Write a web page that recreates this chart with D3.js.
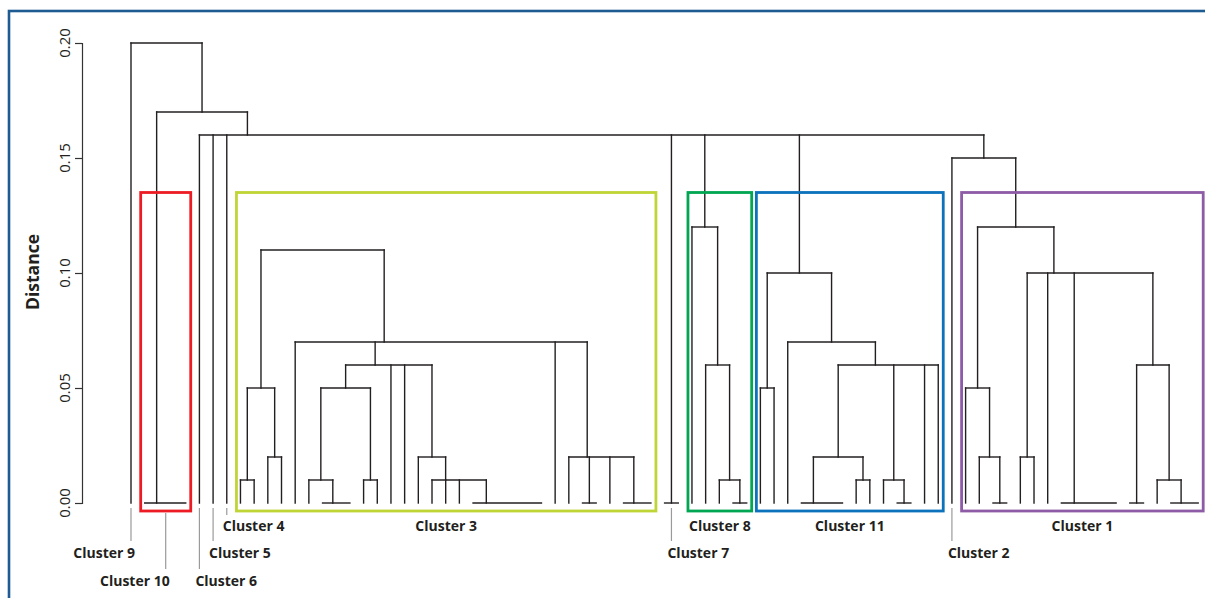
<!DOCTYPE html>
<html><head><meta charset="utf-8">
<script src="https://cdn.jsdelivr.net/npm/d3@7"></script>
<style>body{margin:0;background:#fff}svg{display:block}</style>
</head><body><svg id="chart" width="1205" height="598"></svg>
<script>
// ---------- DATA ----------
// Tree builder helpers: N(height, ...children), L() = leaf
const L = () => ({h: 0});
const N = (h, ...children) => ({h, children});

const cluster10Tree = N(0, L(), L(), L(), L());
const cluster3Tree = N(0.11,
  N(0.05, N(0.01, L(), L()), N(0.02, L(), L())),
  N(0.07,
    L(),
    N(0.06,
      N(0.05, N(0.01, L(), N(0, L(), L(), L())), N(0.01, L(), L())),
      L(), L(),
      N(0.02, L(), N(0.01, L(), L(), L(), N(0, L(), L(), L(), L(), L(), L())))
    ),
    L(),
    N(0.02, L(), N(0, L(), L()), L(), N(0, L(), L(), L()))
  )
);
cluster3Tree.hideStem = true;
const cluster7Tree = N(0, L(), L());
const cluster8Tree = N(0.12, L(), N(0.06, L(), N(0.01, L(), N(0, L(), L()))));
const cluster11Tree = N(0.10,
  N(0.05, L(), L()),
  N(0.07, L(),
    N(0.06,
      N(0.02, N(0, L(), L(), L(), L()), N(0.01, L(), L())),
      N(0.01, L(), N(0, L(), L())),
      L(), L()
    )
  )
);
const cluster1Tree = N(0.12,
  N(0.05, L(), N(0.02, L(), N(0, L(), L()))),
  N(0.10,
    N(0.02, L(), L()),
    L(),
    N(0, L(), L(), L(), L(), L()),
    N(0.06, N(0, L(), L()), N(0.01, L(), N(0, L(), L(), L())))
  )
);
const treeData = N(0.20,
  L(),                       // Cluster 9
  N(0.17,
    cluster10Tree,
    N(0.16,
      L(), L(), L(),          // Clusters 6, 5, 4
      cluster3Tree, cluster7Tree, cluster8Tree, cluster11Tree,
      N(0.15, L() /* Cluster 2 */, cluster1Tree)
    )
  )
);

const yTicks = [0, 0.05, 0.10, 0.15, 0.20];
const yLabel = "Distance";

const clusterNames = ["Cluster 1","Cluster 2","Cluster 3","Cluster 4","Cluster 5","Cluster 6",
                      "Cluster 7","Cluster 8","Cluster 9","Cluster 10","Cluster 11"];
const clusterFirstLeaf = [61, 60, 8, 7, 6, 5, 39, 41, 0, 1, 46];
const clusterLastLeaf  = [78, 60, 38, 7, 6, 5, 40, 45, 0, 4, 59];
const boxTop = 0.135;

// ---------- STYLE / LAYOUT ----------
const clusterBoxColor = ["#8e5ba6", null, "#bfd535", null, null, null, null, "#00a651", null, "#ed1c24", "#0b72bb"];
const clusterRow    = [0, 1, 0, 0, 1, 2, 1, 0, 1, 2, 0];
const clusterAnchor = ["middle","start","middle","start","start","start","start","middle","end","end","middle"];
const rowBaseline = [531, 558, 586];
const rowLineEnd  = [515, 541, 569];

const svg = d3.select("#chart");
const x = d3.scaleLinear().domain([0, 78]).range([131, 1198.2]);
const y = d3.scaleLinear().domain([0, 0.2]).range([503, 43]);

// frame
svg.append("rect").attr("x", 9).attr("y", 11).attr("width", 1230).attr("height", 620)
  .attr("fill", "none").attr("stroke", "#1d5b92").attr("stroke-width", 2.6);

// layout of dendrogram
const root = d3.hierarchy(treeData);
root.leaves().forEach((l, i) => { l.px = x(i); });
(function place(n) {
  if (!n.children) return n.px;
  const xs = n.children.map(place);
  let m = xs[xs.length - 1];
  for (let i = xs.length - 2; i >= 0; i--) m = (xs[i] + m) / 2;
  n.px = m;
  return m;
})(root);

const g = svg.append("g").attr("stroke", "#231f20").attr("stroke-width", 1.4)
  .attr("fill", "none").attr("stroke-linecap", "square");
const internal = root.descendants().filter(d => d.children);
g.selectAll("line.h").data(internal).join("line").attr("class", "h")
  .attr("x1", d => d.children[0].px).attr("x2", d => d.children[d.children.length - 1].px)
  .attr("y1", d => y(d.data.h)).attr("y2", d => y(d.data.h));
const stems = root.descendants().filter(d => d.parent && !d.data.hideStem && d.parent.data.h > d.data.h);
g.selectAll("line.v").data(stems).join("line").attr("class", "v")
  .attr("x1", d => d.px).attr("x2", d => d.px)
  .attr("y1", d => y(d.data.h)).attr("y2", d => y(d.parent.data.h));

// axis
const axis = svg.append("g").attr("transform", "translate(82,0)")
  .call(d3.axisLeft(y).tickValues(yTicks).tickSize(7).tickFormat(""));
axis.select(".domain").attr("stroke", "#333").attr("stroke-width", 1.2);
axis.selectAll(".tick line").attr("stroke", "#333").attr("stroke-width", 1.2);
svg.append("g").selectAll("text").data(yTicks).join("text")
  .attr("transform", d => `translate(70,${y(d)}) rotate(-90)`)
  .attr("text-anchor", "middle")
  .attr("font-family", "'Open Sans', sans-serif").attr("font-size", 15).attr("fill", "#231f20")
  .text(d3.format(".2f"));
svg.append("text").attr("transform", "translate(39,272) rotate(-90)")
  .attr("text-anchor", "middle").attr("font-family", "'Open Sans', sans-serif")
  .attr("font-weight", "bold").attr("font-size", 17.5).attr("fill", "#231f20").text(yLabel);

// cluster boxes, pointers and labels
const clusters = clusterNames.map((name, i) => {
  const x0 = x(clusterFirstLeaf[i]), x1 = x(clusterLastLeaf[i]);
  return {name, x0, x1, mid: (x0 + x1) / 2, color: clusterBoxColor[i], row: clusterRow[i], anchor: clusterAnchor[i]};
});
clusters.forEach(c => {
  if (c.color) {
    c.bx0 = c.x0 - 4; c.bx1 = c.x1 + 5;
    svg.append("rect").attr("x", c.bx0).attr("y", y(boxTop))
      .attr("width", c.bx1 - c.bx0).attr("height", y(0) + 8 - y(boxTop))
      .attr("fill", "none").attr("stroke", c.color).attr("stroke-width", 2.8);
  }
  let tx;
  if (c.anchor === "middle") {
    tx = (c.bx0 + c.bx1) / 2;
  } else {
    const lx = c.color ? (c.bx0 + c.bx1) / 2 : c.mid;
    const ly0 = c.color ? y(0) + 10 : y(0) + 5;
    svg.append("line").attr("x1", lx).attr("x2", lx).attr("y1", ly0).attr("y2", rowLineEnd[c.row])
      .attr("stroke", "#9a9a9a").attr("stroke-width", 1.2);
    tx = c.anchor === "start" ? lx - 4 : lx + 4;
  }
  svg.append("text").attr("x", tx).attr("y", rowBaseline[c.row]).attr("text-anchor", c.anchor)
    .attr("font-family", "'Open Sans', sans-serif").attr("font-weight", "bold")
    .attr("font-size", 14).attr("fill", "#231f20").text(c.name);
});
</script></body></html>
